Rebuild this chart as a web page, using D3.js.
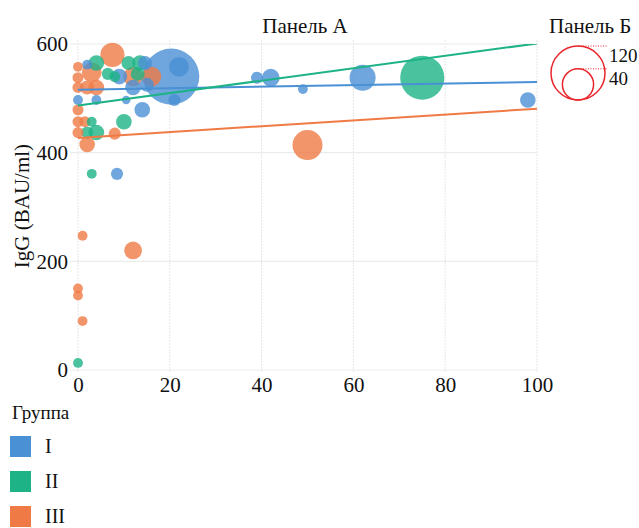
<!DOCTYPE html>
<html><head><meta charset="utf-8">
<script src="https://cdn.jsdelivr.net/npm/d3@7"></script>
<style>body{margin:0;background:#fff}svg{display:block}text{font-family:"Liberation Serif","Times New Roman",serif;fill:#111}</style>
</head><body><svg id="c" width="639" height="528"></svg>
<script>
// Data: [x, IgG, size]
const groupI = [
  [20.3,540,130],[62,538,28],[22,558,16],[42,538,13],[9,540,10],[12,520,10],[14,479,10],[98,497,10],
  [15,525,8],[14.6,565,8],[21,497,6],[8.5,361,6],[39,538,6],[2,562,4],[0,497,4],[4,497,4],[49,517,4],[10.5,497,3]
];
const groupII = [
  [75,538,80],[4,565,10],[4,437,10],[10,457,10],[13.5,565,10],[11,565,8],[13,545,8],
  [6.5,545,6],[2,437,6],[8,540,5],[3,457,4],[3,361,4],[0,13,4]
];
const groupIII = [
  [50,414,37],[7.5,580,24],[3,548,16],[12,540,16],[16,540,16],[12,220,13],[2,415,10],[4,520,10],
  [2,520,8],[8,435,6],[0,538,5],[0,520,5],[0,479,5],[0,457,5],[1.5,457,5],[0,437,5],
  [0,558,4],[1,247,4],[0,150,4],[0,137,4],[1,90,4]
];
const groupNames = ["I","II","III"];
const groupColors = ["#4a90d4","#1db386","#ef7a45"];
const trendStart = [516,487,427];   // fitted value at x = 0
const trendEnd   = [530,601,481];   // fitted value at x = 100
const xTicks = [0,20,40,60,80,100];
const yTicks = [0,200,400,600];
const sizeLegend = [120,40];
const panelTitles = ["Панель А","Панель Б"];
const yLabel = "IgG (BAU/ml)";
const legendTitle = "Группа";

const svg = d3.select("#c");
const x = d3.scaleLinear().domain([0,100]).range([78,537]);
const y = d3.scaleLinear().domain([0,600]).range([370,44]);
const r = d3.scaleSqrt().domain([0,120]).range([0,27]);
const pL = 70, pR = 537, pT = 40, pB = 372;

// grid
const g = svg.append("g");
g.selectAll(".vg").data(xTicks).join("line")
  .attr("x1",d=>x(d)).attr("x2",d=>x(d)).attr("y1",pT).attr("y2",pB)
  .attr("stroke","#e6e6e6").attr("stroke-width",1).attr("stroke-dasharray","2,1");
g.selectAll(".hg").data(yTicks).join("line")
  .attr("x1",pL).attr("x2",pR).attr("y1",d=>y(d)).attr("y2",d=>y(d))
  .attr("stroke","#ececec").attr("stroke-width",1.2);

// axes (labels only)
const xa = svg.append("g").attr("transform",`translate(0,${pB})`)
  .call(d3.axisBottom(x).tickValues(xTicks).tickSize(0).tickPadding(5).tickFormat(d3.format("d")));
xa.select(".domain").remove();
xa.selectAll("text").style("font-size","21px").style("font-family","Liberation Serif").attr("fill","#111");
const ya = svg.append("g").attr("transform",`translate(${pL},0)`)
  .call(d3.axisLeft(y).tickValues(yTicks).tickSize(0).tickPadding(2).tickFormat(d3.format("d")));
ya.select(".domain").remove();
ya.selectAll("text").style("font-size","21px").style("font-family","Liberation Serif").attr("fill","#111");

svg.append("text").attr("transform","translate(29,206) rotate(-90)").attr("text-anchor","middle")
  .style("font-size","21px").text(yLabel);

// clip for lines
svg.append("clipPath").attr("id","pc").append("rect")
  .attr("x",pL).attr("y",y(600)).attr("width",pR-pL+1).attr("height",pB-y(600));

// bubbles
const groups = [groupI, groupII, groupIII];
const all = [];
groups.forEach((arr,gi)=>arr.forEach(d=>all.push({x:d[0],y:d[1],s:d[2],g:gi})));
all.sort((a,b)=>b.s-a.s);
svg.append("g").selectAll("circle").data(all).join("circle")
  .attr("cx",d=>x(d.x)).attr("cy",d=>y(d.y)).attr("r",d=>r(d.s))
  .attr("fill",d=>groupColors[d.g]).attr("fill-opacity",0.8);

// trend lines
svg.append("g").attr("clip-path","url(#pc)").selectAll("line").data(groupNames).join("line")
  .attr("x1",x(0)).attr("x2",x(100))
  .attr("y1",(d,i)=>y(trendStart[i])).attr("y2",(d,i)=>y(trendEnd[i]))
  .attr("stroke",(d,i)=>groupColors[i]).attr("stroke-width",2);

// titles
svg.append("text").attr("x",305).attr("y",33).attr("text-anchor","middle").style("font-size","21px").text(panelTitles[0]);
svg.append("text").attr("x",549).attr("y",33).style("font-size","21px").text(panelTitles[1]);

// size legend
const cx = 578, base = 100;
const sl = svg.append("g");
sizeLegend.forEach((v,i)=>{
  const rr = r(v);
  sl.append("circle").attr("cx",cx).attr("cy",base-rr).attr("r",rr)
    .attr("fill","none").attr("stroke","#e8262c").attr("stroke-width",1.5);
  sl.append("line").attr("x1",cx).attr("x2",607).attr("y1",base-2*rr).attr("y2",base-2*rr)
    .attr("stroke","#e8262c").attr("stroke-width",1).attr("stroke-dasharray","1,1.5");
  sl.append("text").attr("x",609).attr("y",base-2*rr+16).style("font-size","19px").text(v);
});

// group legend
svg.append("text").attr("x",12).attr("y",419).style("font-size","19px").text(legendTitle);
const lg = svg.append("g").selectAll("g").data(groupNames).join("g")
  .attr("transform",(d,i)=>`translate(10,${436+i*35})`);
lg.append("rect").attr("width",21).attr("height",21).attr("fill",(d,i)=>groupColors[i]);
lg.append("text").attr("x",35).attr("y",17).style("font-size",(d,i)=>"20px").text(d=>d);
</script></body></html>
